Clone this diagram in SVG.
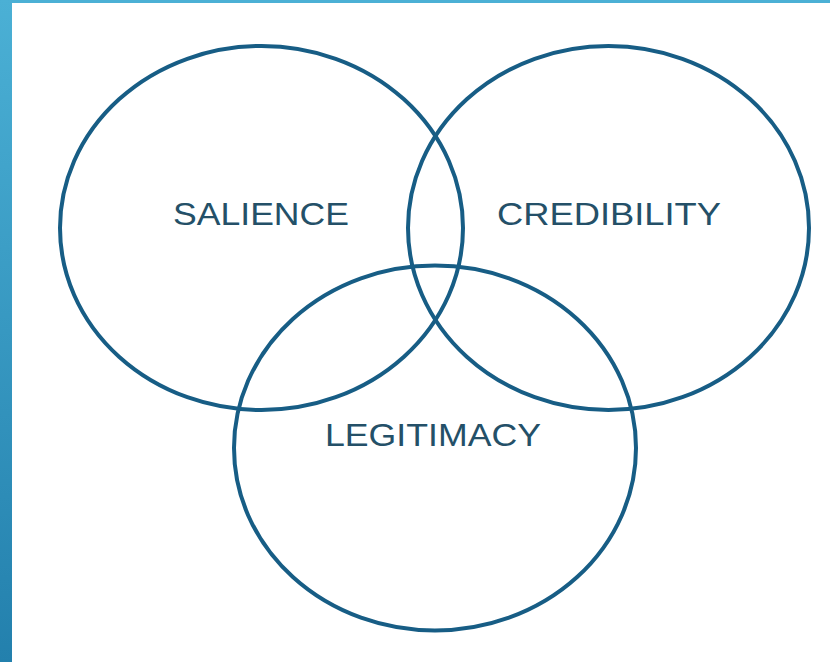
<svg xmlns="http://www.w3.org/2000/svg" width="830" height="662" viewBox="0 0 830 662">
  <defs>
    <linearGradient id="sidebar" x1="0" y1="0" x2="0" y2="1">
      <stop offset="0" stop-color="#4BB0D5"/>
      <stop offset="1" stop-color="#2380AD"/>
    </linearGradient>
    <style>
      .ring { fill: none; stroke: #175D85; stroke-width: 4; }
      .label { font-family: "Liberation Sans", Arial, sans-serif; font-size: 31px; fill: #245068; text-anchor: middle; }
    </style>
  </defs>
  <rect x="0" y="0" width="830" height="662" fill="#FFFFFF"/>
  <rect x="0" y="0" width="830" height="3" fill="#4BB0D5"/>
  <rect x="0" y="0" width="12" height="662" fill="url(#sidebar)"/>

  <g id="salience">
    <ellipse class="ring" cx="261.5" cy="228" rx="201.5" ry="182"/>
    <text class="label" x="261" y="224.5" textLength="176" lengthAdjust="spacingAndGlyphs">SALIENCE</text>
  </g>
  <g id="credibility">
    <ellipse class="ring" cx="608.5" cy="228" rx="200.5" ry="182"/>
    <text class="label" x="609" y="224.5" textLength="224" lengthAdjust="spacingAndGlyphs">CREDIBILITY</text>
  </g>
  <g id="legitimacy">
    <ellipse class="ring" cx="435" cy="448" rx="201" ry="182.5"/>
    <text class="label" x="433" y="445.5" textLength="216" lengthAdjust="spacingAndGlyphs">LEGITIMACY</text>
  </g>
  <g id="connectors"/>
</svg>
